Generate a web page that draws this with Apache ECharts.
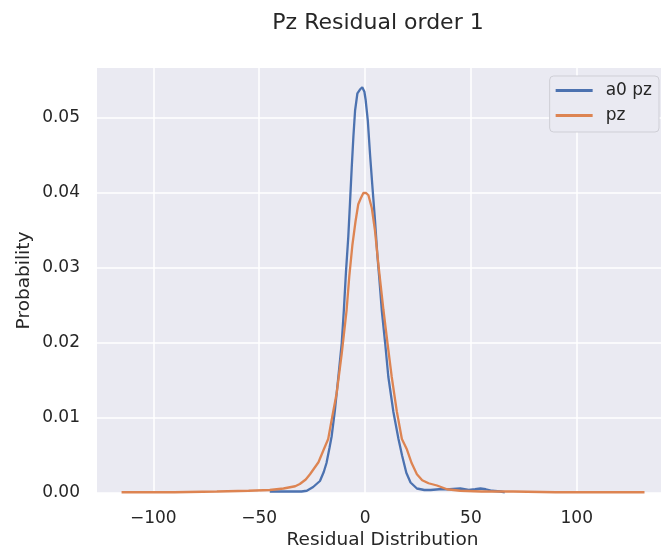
<!DOCTYPE html>
<html>
<head>
<meta charset="utf-8">
<script src="https://cdn.jsdelivr.net/npm/echarts@6/dist/echarts.min.js"></script>
<style>
  html, body { margin: 0; padding: 0; background: #ffffff; }
  #chart { width: 661px; height: 550px; }
</style>
</head>
<body>
<div id="chart"></div>
<script>
// KDE of residuals, "a0 pz" estimator: [residual, density]
const a0pzResidual = [-45, -35, -30, -27.5, -24.5, -21.3, -19.5, -18.2, -16.8, -15.8, -14.2, -12.6, -11.0, -10.0, -9.0, -7.9, -7.1, -6.3, -5.5, -4.7, -3.6, -2.4, -1.3, -0.3, 0.3, 1.3, 2.4, 3.5, 4.7, 5.8, 6.8, 7.9, 9.5, 11.0, 13.4, 15.8, 17.5, 19.5, 21.5, 24.5, 28, 31, 35, 40, 45, 49, 52, 54.5, 57, 60, 64, 66];
const a0pzDensity = [0.0002, 0.0002, 0.0002, 0.0003, 0.0008, 0.0016, 0.0028, 0.0040, 0.0060, 0.0075, 0.0111, 0.0155, 0.0200, 0.0244, 0.0295, 0.0342, 0.0387, 0.0433, 0.0475, 0.0510, 0.0533, 0.0538, 0.0541, 0.0535, 0.0524, 0.0497, 0.0450, 0.0408, 0.0364, 0.0318, 0.0284, 0.0244, 0.0200, 0.0155, 0.0108, 0.0072, 0.0050, 0.0027, 0.0014, 0.0006, 0.0004, 0.0004, 0.0005, 0.0005, 0.0006, 0.0004, 0.0005, 0.0006, 0.0005, 0.0003, 0.0002, 0.0001];

// KDE of residuals, "pz" estimator
const pzResidual = [-115, -90, -70, -55, -45, -38.5, -33, -30.8, -28, -26, -24, -22, -19.5, -17.4, -15.8, -13.4, -11.0, -8.7, -7.4, -6.0, -4.5, -3.2, -2.0, -0.8, 0.5, 1.6, 3.2, 4.7, 6.3, 8.7, 10.6, 12.6, 15.0, 17.4, 19.8, 22, 24.5, 27, 30, 34, 38.7, 45, 55, 70, 90, 110, 132];
const pzDensity = [0.0001, 0.0001, 0.0002, 0.0003, 0.0004, 0.0006, 0.0009, 0.0012, 0.0018, 0.0025, 0.0033, 0.0041, 0.0058, 0.0072, 0.0097, 0.0133, 0.0186, 0.0244, 0.0290, 0.0330, 0.0362, 0.0385, 0.0393, 0.0400, 0.0400, 0.0397, 0.0380, 0.0350, 0.0305, 0.0244, 0.0200, 0.0155, 0.0109, 0.0072, 0.0058, 0.0040, 0.0025, 0.0017, 0.0013, 0.0010, 0.0005, 0.0003, 0.0002, 0.0002, 0.0001, 0.0001, 0.0001];

const xTicks = [-100, -50, 0, 50, 100];
const yTicks = [0, 0.01, 0.02, 0.03, 0.04, 0.05];

const seriesNames = ['a0 pz', 'pz'];
const seriesColors = ['#4C72B0', '#DD8452'];

const pairs = (xs, ys) => xs.map((x, i) => [x, ys[i]]);
const textColor = '#262626';
const font = 'DejaVu Sans';

const chart = echarts.init(document.getElementById('chart'), null, { renderer: 'canvas' });

chart.setOption({
  animation: false,
  backgroundColor: '#ffffff',
  textStyle: { fontFamily: font, color: textColor },
  title: {
    text: 'Pz Residual order 1',
    left: 373,
    top: 7,
    textAlign: 'center',
    textStyle: { fontFamily: font, fontSize: 22, fontWeight: 'normal', color: textColor }
  },
  grid: {
    left: 97,
    top: 68,
    width: 571,
    bottom: 57,
    show: true,
    backgroundColor: '#EAEAF2',
    borderWidth: 0,
    containLabel: false,
    outerBoundsMode: 'none'
  },
  legend: {
    orient: 'vertical',
    right: 2,
    top: 76,
    padding: [6, 7, 8, 6],
    itemGap: 8,
    itemWidth: 37,
    itemHeight: 3,
    icon: 'rect',
    backgroundColor: '#EAEAF2',
    borderColor: '#CFCFD6',
    borderWidth: 1,
    borderRadius: 4,
    textStyle: { fontFamily: font, fontSize: 17, color: textColor, padding: [0, 0, 0, 8] },
    data: seriesNames
  },
  xAxis: {
    type: 'value',
    min: -126.6,
    max: 143.1,
    name: 'Residual Distribution',
    nameLocation: 'middle',
    nameGap: 38,
    nameMoveOverlap: false,
    nameTextStyle: { fontFamily: font, fontSize: 18.5, color: textColor },
    axisLine: { show: false },
    axisTick: { show: false, customValues: xTicks },
    axisLabel: {
      customValues: xTicks,
      margin: 17,
      fontFamily: font,
      fontSize: 17,
      color: textColor,
      formatter: v => String(v).replace('-', '\u2212')
    },
    splitLine: { show: true, lineStyle: { color: '#ffffff', width: 1.5 } }
  },
  yAxis: {
    type: 'value',
    min: 0,
    max: 0.05667,
    name: 'Probability',
    nameLocation: 'middle',
    nameGap: 63,
    nameMoveOverlap: false,
    nameTextStyle: { fontFamily: font, fontSize: 18.5, color: textColor },
    axisLine: { show: false },
    axisTick: { show: false, customValues: yTicks },
    axisLabel: {
      customValues: yTicks,
      margin: 17,
      fontFamily: font,
      fontSize: 17,
      color: textColor,
      formatter: v => v.toFixed(2)
    },
    splitLine: { show: true, lineStyle: { color: '#ffffff', width: 1.5 } }
  },
  series: [
    {
      name: seriesNames[0],
      type: 'line',
      data: pairs(a0pzResidual, a0pzDensity),
      showSymbol: false,
      smooth: false,
      color: seriesColors[0],
      lineStyle: { width: 2.3, color: seriesColors[0] }
    },
    {
      name: seriesNames[1],
      type: 'line',
      data: pairs(pzResidual, pzDensity),
      showSymbol: false,
      smooth: false,
      color: seriesColors[1],
      lineStyle: { width: 2.3, color: seriesColors[1] }
    }
  ]
});
</script>
</body>
</html>
